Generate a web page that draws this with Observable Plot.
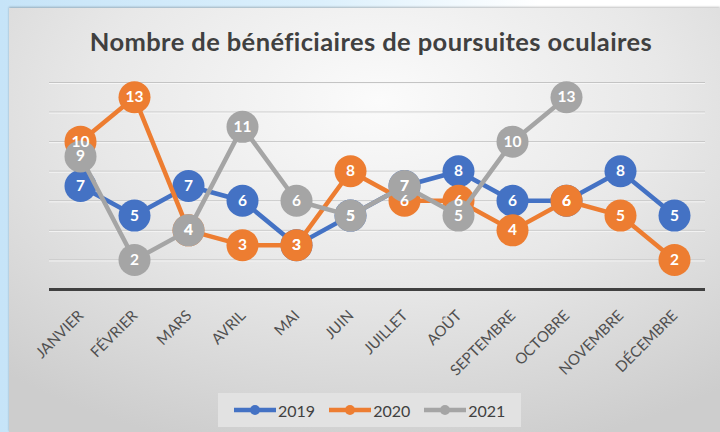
<!DOCTYPE html>
<html>
<head>
<meta charset="utf-8">
<script src="https://cdn.jsdelivr.net/npm/d3@7"></script>
<script src="https://cdn.jsdelivr.net/npm/@observablehq/plot@0.6"></script>
<style>
  html, body { margin: 0; padding: 0; width: 720px; height: 432px; overflow: hidden; }
  body { background: linear-gradient(to right, #c6e4f8 0%, #dcf0fc 45%, #ffffff 75%); font-family: Lato, "Open Sans", sans-serif; position: relative; }
  #frame { position: absolute; left: 9px; top: 8px; width: 711px; height: 424px;
    background: radial-gradient(ellipse 80% 85% at 52% 22%, #fbfbfb 0%, #e8e8e8 50%, #cdcdcd 100%);
    box-shadow: 0 -1px 2px rgba(0,0,0,0.25); }
  #title { position: absolute; left: 0; width: 742px; top: 29px; text-align: center; font-size: 25.5px; line-height: 25.5px;
    letter-spacing: 0.4px; font-weight: 700; color: #404040; white-space: nowrap; }
  #chart { position: absolute; left: 0; top: 0; }
  #legend { position: absolute; left: 218px; top: 393px; width: 303px; height: 34px; background: #e2e2e2;
    display: flex; align-items: center; padding-left: 16px; box-sizing: border-box; gap: 14px; }
  .item { display: flex; align-items: center; gap: 2px; font-size: 16px; color: #404040; }
</style>
</head>
<body>
<div id="frame"></div>
<div id="title">Nombre de bénéficiaires de poursuites oculaires</div>
<div id="chart"></div>
<div id="legend"></div>
<script>
const months = ["JANVIER","FÉVRIER","MARS","AVRIL","MAI","JUIN","JUILLET","AOÛT","SEPTEMBRE","OCTOBRE","NOVEMBRE","DÉCEMBRE"];
const years = ["2019","2020","2021"];
const colors = ["#4472C4","#ED7D31","#A5A5A5"];
const v2019 = [7,5,7,6,3,5,7,8,6,6,8,5];
const v2020 = [10,13,4,3,3,8,6,6,4,6,5,2];
const v2021 = [9,2,4,11,6,5,7,5,10,13];
const gridTicks = [2,4,6,8,10,12,14];

const seriesValues = [v2019, v2020, v2021];
const series = years.map((yr, i) => seriesValues[i].map((v, j) => ({year: yr, month: months[j], value: v})));
const all = series.flat();

const marks = [
  Plot.ruleY(gridTicks, {stroke: "#c4c4c4", strokeWidth: 1}),
  Plot.ruleY(gridTicks, {stroke: "#f6f6f6", strokeWidth: 1, dy: 1}),
  Plot.ruleY([0], {stroke: "#404040", strokeWidth: 3})
];
series.forEach((s) => {
  marks.push(Plot.line(s, {x: "month", y: "value", stroke: "year", strokeWidth: 4.5, strokeLinejoin: "round"}));
  marks.push(Plot.dot(s, {x: "month", y: "value", fill: "year", r: 16}));
});
marks.push(Plot.text(all, {x: "month", y: "value", text: d => String(d.value), fill: "white", fontWeight: "bold", fontSize: 15.5}));
marks.push(Plot.text(months, {x: d => d, text: d => d, frameAnchor: "bottom", rotate: -45, textAnchor: "end",
  dx: 4, dy: 27, fill: "#505050", fontSize: 15}));

const chart = Plot.plot({
  width: 720,
  height: 380,
  marginLeft: 49,
  marginRight: 15,
  marginTop: 82,
  marginBottom: 91,
  style: {background: "transparent", fontFamily: "Lato, 'Open Sans', sans-serif", overflow: "visible"},
  x: {type: "point", domain: months, padding: 0.5, axis: null},
  y: {domain: [0, 14], axis: null},
  color: {domain: years, range: colors},
  marks
});
document.getElementById("chart").appendChild(chart);

const legend = document.getElementById("legend");
years.forEach((yr, i) => {
  const item = document.createElement("div");
  item.className = "item";
  item.innerHTML = `<svg width="42" height="12"><line x1="0" x2="42" y1="6" y2="6" stroke="${colors[i]}" stroke-width="4.5"/><circle cx="21" cy="6" r="5" fill="${colors[i]}"/></svg><span>${yr}</span>`;
  legend.appendChild(item);
});
</script>
</body>
</html>
